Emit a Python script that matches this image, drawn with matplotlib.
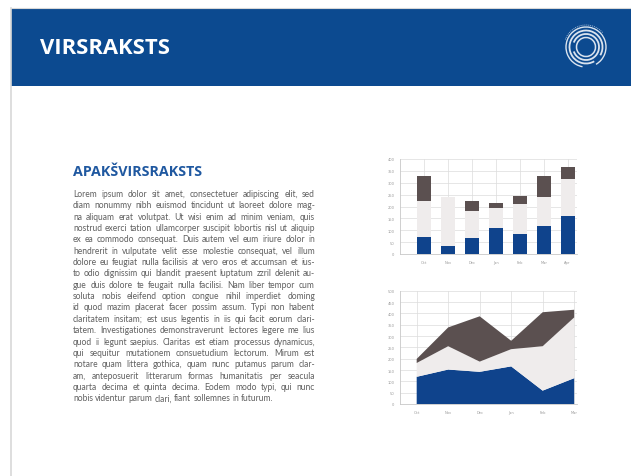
import matplotlib.pyplot as plt
from matplotlib.patches import Rectangle, Arc

# bar chart (stacked)
bar_months = ['Oct', 'Nov', 'Dec', 'Jan', 'Feb', 'Mar', 'Apr']
bar_blue = [73, 35, 66, 108, 85, 117, 162]
bar_light = [152, 204, 114, 86, 126, 122, 152]
bar_dark = [105, 0, 44, 20, 35, 91, 52]
bar_ticks = [0, 50, 100, 150, 200, 250, 300, 350, 400]

# stacked area chart
area_months = ['Oct', 'Nov', 'Dec', 'Jan', 'Feb', 'Mar']
area_blue = [120, 152, 142, 166, 59, 114]
area_light = [61, 103, 45, 76, 196, 268]
area_dark = [18, 83, 200, 37, 150, 34]
area_ticks = [0, 50, 100, 150, 200, 250, 300, 350, 400, 450, 500]

title = 'VIRSRAKSTS'
subtitle = 'APAKŠVIRSRAKSTS'
body = [
    'Lorem ipsum dolor sit amet, consectetuer adipiscing elit, sed',
    'diam nonummy nibh euismod tincidunt ut laoreet dolore mag-',
    'na aliquam erat volutpat. Ut wisi enim ad minim veniam, quis',
    'nostrud exerci tation ullamcorper suscipit lobortis nisl ut aliquip',
    'ex ea commodo consequat. Duis autem vel eum iriure dolor in',
    'hendrerit in vulputate velit esse molestie consequat, vel illum',
    'dolore eu feugiat nulla facilisis at vero eros et accumsan et ius-',
    'to odio dignissim qui blandit praesent luptatum zzril delenit au-',
    'gue duis dolore te feugait nulla facilisi. Nam liber tempor cum',
    'soluta nobis eleifend option congue nihil imperdiet doming',
    'id quod mazim placerat facer possim assum. Typi non habent',
    'claritatem insitam; est usus legentis in iis qui facit eorum clari-',
    'tatem. Investigationes demonstraverunt lectores legere me lius',
    'quod ii legunt saepius. Claritas est etiam processus dynamicus,',
    'qui sequitur mutationem consuetudium lectorum. Mirum est',
    'notare quam littera gothica, quam nunc putamus parum clar-',
    'am, anteposuerit litterarum formas humanitatis per seacula',
    'quarta decima et quinta decima. Eodem modo typi, qui nunc',
    'nobis videntur parum clari, fiant sollemnes in futurum.',
]

BLUE = '#0f438c'
LIGHT = '#efecec'
DARK = '#5b5050'
HEADER = '#0c4a90'
GRID = '#dcdcdc'
FONT = 'Open Sans'
BODY_FONT = 'Lato'

W, H = 631, 477
fig = plt.figure(figsize=(W / 100, H / 100), dpi=100)
fig.patch.set_facecolor('white')

# page overlay in pixel coordinates
bg = fig.add_axes([0, 0, 1, 1], zorder=-1)
bg.set_xlim(0, W)
bg.set_ylim(H, 0)
bg.axis('off')
bg.plot([11, 11], [9, H], color='#d8d8d8', lw=1.2)
bg.plot([11, W], [9, 9], color='#d8d8d8', lw=0.8)
bg.add_patch(Rectangle((11, 10), W - 11, 77, color=HEADER, lw=0))
bg.text(40, 49, title, color='white', fontsize=15.8, fontweight='bold',
        family=FONT, va='center', ha='left')

# logo rings
for r, t1, t2, lw in [(20, 100, 420, 1.0), (16.5, 60, 390, 1.3),
                      (13, 200, 520, 1.3), (9.5, 0, 360, 1.1)]:
    bg.add_patch(Arc((586, 48), 2 * r, 2 * r, theta1=t1, theta2=t2,
                     color='white', lw=lw, alpha=0.85))
bg.add_patch(Arc((586, 48), 44, 44, theta1=200, theta2=320,
                 color='white', lw=0.7, alpha=0.6, linestyle=(0, (1, 1))))

bg.text(73, 172, subtitle, color='#1f58a0', fontsize=10.3, fontweight='bold',
        family=FONT, va='center', ha='left')

# justified body text, font sized so the longest line fills the column
fig.canvas.draw()
rend = fig.canvas.get_renderer()
x0, x1 = 73, 315
y0, dy = 197, 11.35
probe = [bg.text(0, 0, l, fontsize=6, family=BODY_FONT) for l in body]
longest = max(t.get_window_extent(rend).width for t in probe)
for t in probe:
    t.remove()
fs = 6 * (x1 - x0 - 3) / longest

lines = []
for i, line in enumerate(body):
    words = [bg.text(0, y0 + i * dy, w, fontsize=fs, family=BODY_FONT,
                     color='#606060', va='baseline', ha='left')
             for w in line.split()]
    lines.append(words)
widths = [[t.get_window_extent(rend).width for t in ws] for ws in lines]
ta = bg.text(0, 0, 'a a', fontsize=fs, family=BODY_FONT)
tb = bg.text(0, 0, 'aa', fontsize=fs, family=BODY_FONT)
space = ta.get_window_extent(rend).width - tb.get_window_extent(rend).width
ta.remove()
tb.remove()
for i, (ws, wd) in enumerate(zip(lines, widths)):
    if i < len(lines) - 1 and len(ws) > 1:
        gap = (x1 - x0 - sum(wd)) / (len(ws) - 1)
    else:
        gap = space
    x = x0
    for t, w in zip(ws, wd):
        t.set_x(x)
        x += w + gap


def style(ax):
    ax.set_facecolor('white')
    for s in ['top', 'right']:
        ax.spines[s].set_visible(False)
    for s in ['left', 'bottom']:
        ax.spines[s].set_color('#c8c8c8')
        ax.spines[s].set_linewidth(0.6)
    ax.grid(True, color=GRID, lw=0.5)
    ax.set_axisbelow(True)
    ax.tick_params(length=0, labelsize=2.6, labelcolor='#9a9a9a', pad=4)


# bar chart
ax1 = fig.add_axes([400 / W, 1 - 255 / H, 177 / W, 95 / H])
xs = range(len(bar_months))
b2 = [a + b for a, b in zip(bar_blue, bar_light)]
ax1.bar(xs, bar_blue, width=0.58, color=BLUE, lw=0)
ax1.bar(xs, bar_light, bottom=bar_blue, width=0.58, color=LIGHT, lw=0)
ax1.bar(xs, bar_dark, bottom=b2, width=0.58, color=DARK, lw=0)
ax1.set_xlim(-0.99, 6.39)
ax1.set_ylim(0, 400)
ax1.set_xticks(list(xs))
ax1.set_xticklabels(bar_months)
ax1.set_yticks(bar_ticks)
style(ax1)

# area chart
ax2 = fig.add_axes([400 / W, 1 - 405 / H, 177 / W, 113.3 / H])
xa = range(len(area_months))
ax2.stackplot(xa, area_blue, area_light, area_dark,
              colors=[BLUE, LIGHT, DARK], lw=0)
ax2.set_xlim(-0.53, 5.09)
ax2.set_ylim(0, 500)
ax2.set_xticks(list(xa))
ax2.set_xticklabels(area_months)
ax2.set_yticks(area_ticks)
style(ax2)

fig.savefig('out.png', dpi=100)
